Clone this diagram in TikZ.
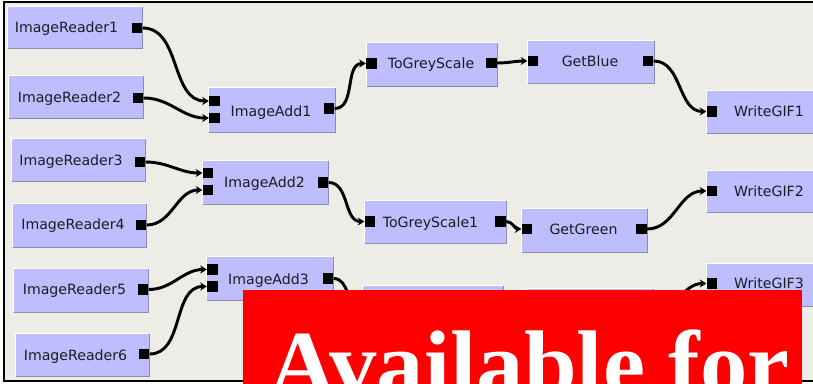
\documentclass[tikz,border=0pt]{standalone}
\usepackage{fontspec}
\setsansfont{DejaVu Sans}
\newfontfamily\bannerfont{Liberation Serif}
\usetikzlibrary{arrows.meta}

\definecolor{canvas}{RGB}{237,236,230}
\definecolor{modfill}{RGB}{190,190,255}
\definecolor{modshade}{RGB}{140,140,172}
\definecolor{modtext}{RGB}{28,28,34}
\definecolor{banner}{RGB}{255,0,0}

% a module box given by its left, top, right and bottom edges (in px)
\newcommand{\module}[5]{%
  \pgfmathsetmacro\modwd{(#4-#2)*0.75}%
  \pgfmathsetmacro\modht{(#5-#3)*0.75}%
  \node[modbox, minimum width=\modwd pt, minimum height=\modht pt] (#1) at ({(#2+#4)/2},{(#3+#5)/2}) {};
  \draw[white, line width=0.9pt] (#1.south west) |- (#1.north east);
  \draw[modshade, line width=0.9pt] (#1.south west) -| (#1.north east);
}

\begin{document}
\begin{tikzpicture}[
  x=0.75pt, y=-0.75pt,
  modbox/.style={rectangle, fill=modfill, inner sep=0pt},
  modlabel/.style={anchor=base, inner sep=0pt, text=modtext,
    font=\sffamily\fontsize{10.6}{12}\selectfont},
  port/.style={rectangle, fill=black, minimum size=8pt, inner sep=0pt},
  wire/.style={line width=2.2pt, out=0, in=180,
    -{Stealth[length=5pt, width=6pt]}},
]
\useasboundingbox (0,0) rectangle (813,384);
\clip (0,0) rectangle (813,384);

% canvas and its frame (open to the right)
\fill[white] (0,0) rectangle (813,384);
\fill[canvas] (4,2) rectangle (813,381);
\draw[line width=1.5pt] (813,2) -- (4,2) -- (4,381) -- (813,381);

% readers
\module{ir1}{8}{7}{142}{48}
\module{ir2}{9}{76}{143}{118}
\module{ir3}{12}{139}{145}{181}
\module{ir4}{13}{204}{146}{247}
\module{ir5}{14}{269}{148}{312}
\module{ir6}{16}{334}{149}{376}
% adders
\module{ia1}{209}{88}{335}{132}
\module{ia2}{203}{161}{328}{204}
\module{ia3}{207}{257}{333}{300}
% filters
\module{tg0}{367}{43}{497}{86}
\module{tg1}{365}{201}{506}{243}
\module{tg2}{363}{286}{503}{328}
\module{gb}{528}{41}{654}{83}
\module{gg}{522}{209}{647}{252}
\module{gr}{528}{289}{653}{331}
% writers
\module{w1}{707}{91}{830}{133}
\module{w2}{707}{171}{830}{212}
\module{w3}{707}{264}{830}{306}

% labels
\node[modlabel] (ir1t) at (66.5,33) {ImageReader1};
\node[modlabel] (ir2t) at (69.5,103) {ImageReader2};
\node[modlabel] (ir3t) at (71,166) {ImageReader3};
\node[modlabel] (ir4t) at (73,230) {ImageReader4};
\node[modlabel] (ir5t) at (74.5,295) {ImageReader5};
\node[modlabel] (ir6t) at (75.5,360) {ImageReader6};
\node[modlabel] (ia1t) at (271,117) {ImageAdd1};
\node[modlabel] (ia2t) at (264.5,188) {ImageAdd2};
\node[modlabel] (ia3t) at (268.5,285) {ImageAdd3};
\node[modlabel] (tg0t) at (431,69) {ToGreyScale};
\node[modlabel] (tg1t) at (430.5,228) {ToGreyScale1};
\node[modlabel] (gbt) at (590,67) {GetBlue};
\node[modlabel] (ggt) at (583.5,235) {GetGreen};
\node[modlabel] (w1t) at (769,117) {WriteGIF1};
\node[modlabel] (w2t) at (769,196.5) {WriteGIF2};
\node[modlabel] (w3t) at (769,289) {WriteGIF3};

% ports
\node[port] (ir1o) at (137,28) {};
\node[port] (ir2o) at (138,98) {};
\node[port] (ir3o) at (140,162) {};
\node[port] (ir4o) at (141,225) {};
\node[port] (ir5o) at (143,289.5) {};
\node[port] (ir6o) at (144,354) {};
\node[port] (ia1a) at (214.5,101) {};
\node[port] (ia1b) at (214.5,118) {};
\node[port] (ia1o) at (329,108.5) {};
\node[port] (ia2a) at (208,173) {};
\node[port] (ia2b) at (208,190) {};
\node[port] (ia2o) at (323,182.5) {};
\node[port] (ia3a) at (212.5,269.5) {};
\node[port] (ia3b) at (212.5,286.5) {};
\node[port] (ia3o) at (328,278.5) {};
\node[port] (tg0i) at (371.5,63.5) {};
\node[port] (tg0o) at (491.5,63) {};
\node[port] (tg1i) at (370,221.5) {};
\node[port] (tg1o) at (500.5,221.5) {};
\node[port] (tg2i) at (368,306) {};
\node[port] (tg2o) at (498,306) {};
\node[port] (gbi) at (533,61) {};
\node[port] (gbo) at (648,61) {};
\node[port] (ggi) at (527,229) {};
\node[port] (ggo) at (641.5,229) {};
\node[port] (gri) at (533,310) {};
\node[port] (gro) at (648,310) {};
\node[port] (w1i) at (712,111.5) {};
\node[port] (w2i) at (712,191) {};
\node[port] (w3i) at (712,283.5) {};

% connections
\draw[wire] (ir1o.east) to (ia1a.west);
\draw[wire] (ir2o.east) to (ia1b.west);
\draw[wire] (ir3o.east) to (ia2a.west);
\draw[wire] (ir4o.east) to (ia2b.west);
\draw[wire] (ir5o.east) to (ia3a.west);
\draw[wire] (ir6o.east) to (ia3b.west);
\draw[wire] (ia1o.east) to (tg0i.west);
\draw[wire] (ia2o.east) to (tg1i.west);
\draw[wire] (ia3o.east) to (tg2i.west);
\draw[wire] (tg0o.east) to (gbi.west);
\draw[wire] (tg1o.east) to (ggi.west);
\draw[wire] (tg2o.east) to (gri.west);
\draw[wire] (gbo.east) to (w1i.west);
\draw[wire] (ggo.east) to (w2i.west);
\draw[wire] (gro.east) to (w3i.west);

% banner
\fill[banner] (243,290) rectangle (802,400);
\node[anchor=base west, inner sep=0pt, text=white,
  font=\bannerfont\bfseries\fontsize{71}{72}\selectfont] (avail) at (268,396) {Available for};
\end{tikzpicture}
\end{document}
